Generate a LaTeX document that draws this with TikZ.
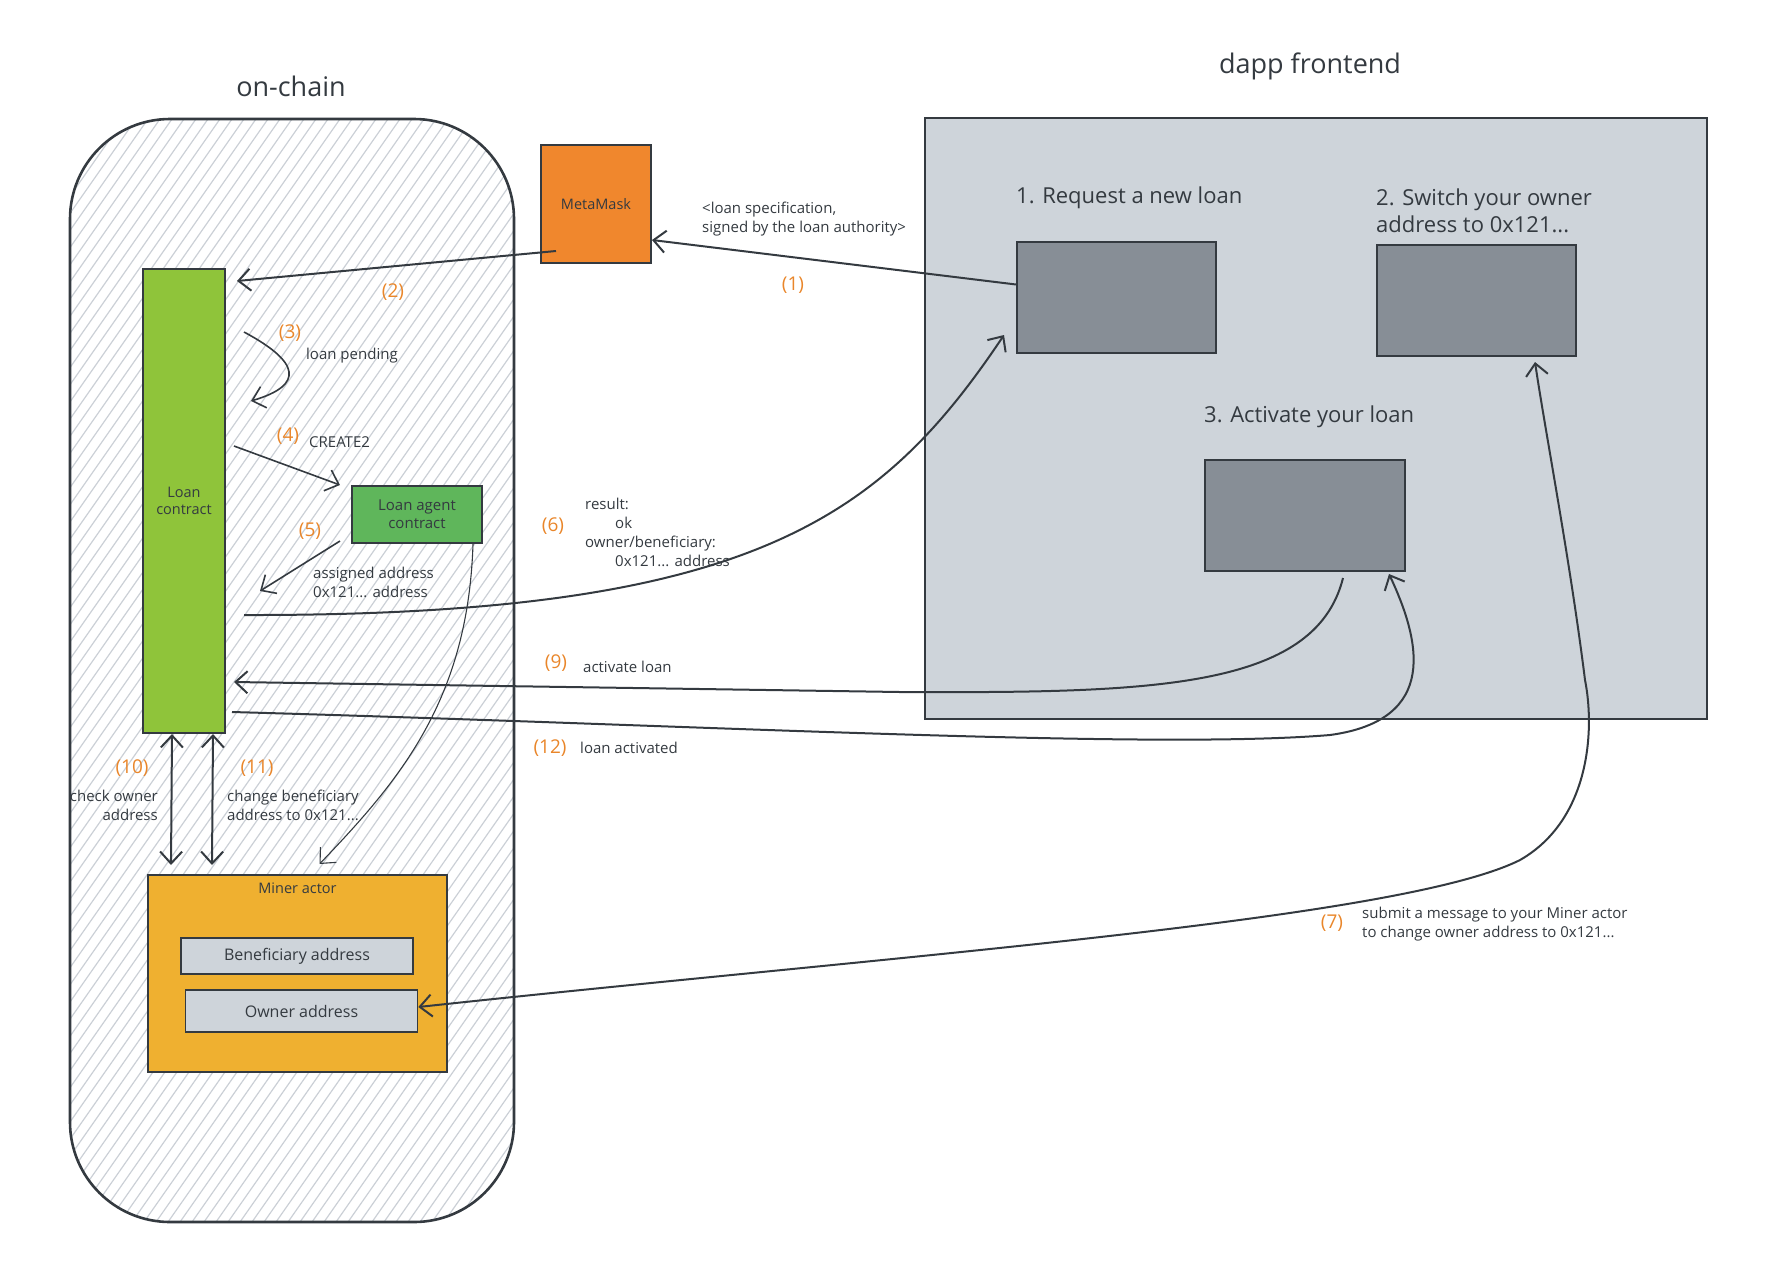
\documentclass[tikz,border=0pt]{standalone}
\usepackage{fontspec}
\setmainfont{Open Sans}
\usepackage{tikz}
\usetikzlibrary{positioning,arrows.meta}

\definecolor{inkgray}{HTML}{343A40}
\definecolor{hatchgray}{HTML}{CBD0D6}
\definecolor{frontgray}{HTML}{CED4DA}
\definecolor{screengray}{HTML}{878E96}
\definecolor{mmorange}{HTML}{F0872D}
\definecolor{loangreen}{HTML}{8FC43A}
\definecolor{agentgreen}{HTML}{5FB65B}
\definecolor{minerorange}{HTML}{EFB030}
\definecolor{numorange}{HTML}{E9862A}

\begin{document}
\begin{tikzpicture}[x=1pt, y=-1pt, auto, text=inkgray, font=\fontsize{14.5}{17}\selectfont]
    % Define styles
    \tikzstyle{block} = [rectangle, draw=inkgray, line width=2pt, text centered, inner sep=0pt]
    \tikzstyle{screen} = [block, fill=screengray, minimum width=199pt, minimum height=111pt]
    \tikzstyle{field} = [block, fill=frontgray, line width=1.6pt, minimum width=232pt, font=\fontsize{16}{18}\selectfont]
    \tikzstyle{num} = [text=numorange, font=\fontsize{19}{21}\selectfont]
    \tikzstyle{note} = [align=left, anchor=west, inner sep=1pt, font=\fontsize{15}{19}\selectfont]
    \tikzstyle{heading} = [align=left, anchor=west, inner sep=1pt, font=\fontsize{22}{27}\selectfont]
    \tikzstyle{title} = [font=\fontsize{27}{30}\selectfont]
    \tikzstyle{arrow} = [line width=2pt, draw=inkgray, ->, >={Straight Barb[length=12pt,width=22pt]}]
    \tikzstyle{hatch} = [hatchgray, line width=1.2pt]

    \useasboundingbox (0,0) rectangle (1782,1275);

    % Hatched on-chain area
    \begin{scope}
        \clip[rounded corners=100pt] (70,119) rectangle (514,1222);
        \foreach \hx in {-720,-708,...,520}
            \draw[hatch] (\hx,1222) -- ++(772,-1103);
    \end{scope}

    % Nodes
    \node[draw=inkgray, line width=2.6pt, rounded corners=100pt, minimum width=444pt, minimum height=1103pt] (chain) at (292,670.5) {};
    \node[title] (chaintitle) at (291,86) {on-chain};
    \node[title] (fronttitle) at (1310,66) {dapp frontend};
    \node[block, fill=frontgray, line width=2.6pt, minimum width=782pt, minimum height=601pt] (front) at (1316,418.5) {};

    \node[block, fill=mmorange, minimum width=110pt, minimum height=118pt] (mm) at (596,204) {MetaMask};
    \node[block, fill=loangreen, minimum width=82pt, minimum height=464pt, align=center] (loan) at (184,501) {Loan\\contract};
    \node[block, fill=agentgreen, minimum width=130pt, minimum height=57pt, align=center, font=\fontsize{15}{18}\selectfont] (agent) at (417,514.5) {Loan agent\\contract};
    \node[block, fill=minerorange, minimum width=299pt, minimum height=197pt] (miner) at (297.5,973.5) {};
    \node[below=5pt of miner.north] (minerlbl) {Miner actor};
    \node[field, minimum height=36pt] (benef) at (297,956) {Beneficiary address};
    \node[field, minimum height=42pt] (owner) at (301.5,1011) {Owner address};

    \node[screen] (box1) at (1116.5,297.5) {};
    \node[screen] (box2) at (1476.5,300.5) {};
    \node[screen, minimum width=200pt] (box3) at (1305,515.5) {};
    \node[heading] (head1) at (1015,198) {1. Request a new loan};
    \node[heading] (head2) at (1375,211) {2. Switch your owner\\address to 0x121...};
    \node[heading] (head3) at (1203,417) {3. Activate your loan};

    % Labels
    \node[num] (n1) at (793,285) {(1)};
    \node[note] (spec) at (701,219) {<loan specification,\\signed by the loan authority>};
    \node[num] (n2) at (393,292) {(2)};
    \node[num] (n3) at (290,333) {(3)};
    \node[note] (pending) at (305,356) {loan pending};
    \node[num] (n4) at (288,436) {(4)};
    \node[note] (create) at (308,442) {CREATE2};
    \node[num] (n5) at (310,531) {(5)};
    \node[note] (assigned) at (312,582) {assigned address\\0x121... address};
    \node[num] (n6) at (553,526) {(6)};
    \node[note] (result) at (584,532) {result:\\\hspace*{30pt}ok\\owner/beneficiary:\\\hspace*{30pt}0x121... address};
    \node[num] (n9) at (556,663) {(9)};
    \node[note] (activate) at (582,667) {activate loan};
    \node[num] (n12) at (550,748) {(12)};
    \node[note] (activated) at (579,748) {loan activated};
    \node[num] (n10) at (132,768) {(10)};
    \node[note, align=right, anchor=east] (check) at (159,805) {check owner\\address};
    \node[num] (n11) at (257,768) {(11)};
    \node[note] (change) at (226,805) {change beneficiary\\address to 0x121...};
    \node[num] (n7) at (1332,923) {(7)};
    \node[note] (submit) at (1361,924) {submit a message to your Miner actor\\to change owner address to 0x121...};

    % Arrows
    \draw[arrow] ([yshift=13pt]box1.west) -- ([yshift=-36pt]mm.east);
    \draw[arrow] ([xshift=16pt,yshift=13pt]mm.south west) -- ([xshift=11pt,yshift=-13pt]loan.north east);
    \draw[arrow, line width=1.6pt] ([xshift=18pt,yshift=-64pt]loan.north east) .. controls (300,362) and (305,385) .. ([xshift=25pt,yshift=-133pt]loan.north east);
    \draw[arrow, line width=1.6pt] ([xshift=8pt,yshift=-178pt]loan.north east) -- ([xshift=-11pt]agent.north west);
    \draw[arrow, line width=1.6pt] ([xshift=-11pt,yshift=3pt]agent.south west) -- ([xshift=34pt,yshift=-323pt]loan.north east);
    \draw[arrow] ([xshift=18pt,yshift=-347pt]loan.north east) .. controls (750,616) and (880,520) .. ([xshift=-12pt,yshift=19pt]box1.south west);
    \draw[arrow, <->] ([yshift=4pt]owner.east) .. controls (900,955) and (1400,920) .. (1520,860) .. controls (1590,820) and (1595,730) .. (1585,680) .. controls (1570,560) and (1545,430) .. ([xshift=-42pt,yshift=-5pt]box2.south east);
    \draw[arrow] ([xshift=38pt,yshift=-6pt]box3.south) .. controls (1315,690) and (1150,693) .. (900,692) -- ([xshift=8pt,yshift=-414pt]loan.north east);
    \draw[arrow] ([xshift=6pt,yshift=-444pt]loan.north east) .. controls (700,725) and (1150,750) .. (1330,735) .. controls (1440,720) and (1420,640) .. ([xshift=-17pt,yshift=-2pt]box3.south east);
    \draw[arrow, <->] ([xshift=-12pt]loan.south) -- ([xshift=24pt,yshift=9pt]miner.north west);
    \draw[arrow, <->] ([xshift=29pt]loan.south) -- ([xshift=65pt,yshift=9pt]miner.north west);
    \draw[arrow, line width=1.1pt] ([xshift=-10pt]agent.south east) .. controls (468,700) and (400,780) .. ([xshift=22pt,yshift=10pt]miner.north);
\end{tikzpicture}
\end{document}
